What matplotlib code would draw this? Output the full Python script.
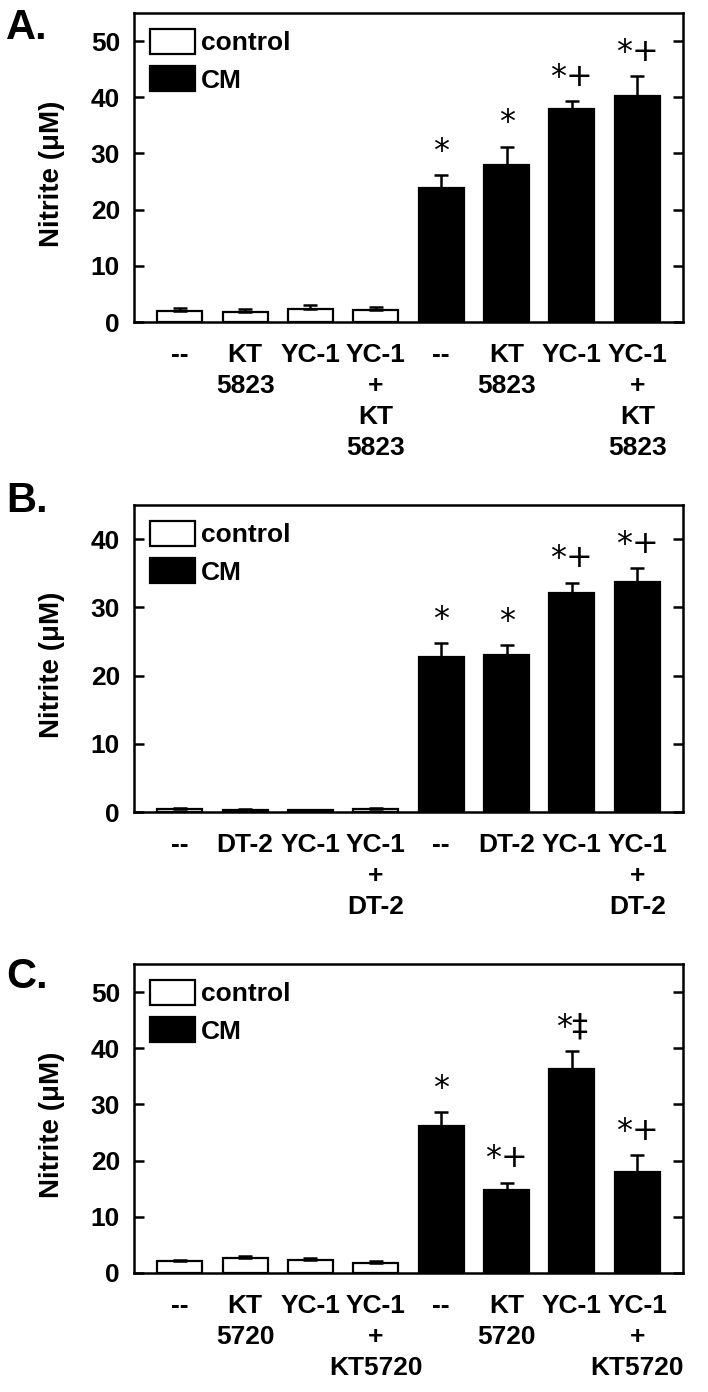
"""
Nitrite production, three panels (A, B, C) of control vs CM bars
"""

#%% Imports
import numpy as np
import matplotlib
matplotlib.use('Agg')
import matplotlib.pyplot as plt
from matplotlib import font_manager

#%% Fonts
installed = {f.name for f in font_manager.fontManager.ttflist}
narrow = 'Liberation Sans Narrow' if 'Liberation Sans Narrow' in installed else 'Liberation Sans'
plt.rcParams['font.family'] = [narrow, 'DejaVu Sans']
plt.rcParams['font.weight'] = 'bold'
plt.rcParams['axes.labelweight'] = 'bold'

#%% Data
labels_a = ['--', 'KT\n5823', 'YC-1', 'YC-1\n+\nKT\n5823',
            '--', 'KT\n5823', 'YC-1', 'YC-1\n+\nKT\n5823']
ctrl_a = [2.0, 1.7, 2.4, 2.2]
ctrl_a_err = [0.5, 0.55, 0.7, 0.5]
cm_a = [23.9, 28.0, 38.0, 40.2]
cm_a_err = [2.2, 3.2, 1.25, 3.6]
sig_a = ['*', '*', '*+', '*+']

labels_b = ['--', 'DT-2', 'YC-1', 'YC-1\n+\nDT-2',
            '--', 'DT-2', 'YC-1', 'YC-1\n+\nDT-2']
ctrl_b = [0.5, 0.35, 0.25, 0.45]
ctrl_b_err = [0.15, 0.1, 0.1, 0.1]
cm_b = [22.7, 23.0, 32.1, 33.7]
cm_b_err = [2.0, 1.5, 1.5, 2.05]
sig_b = ['*', '*', '*+', '*+']

labels_c = ['--', 'KT\n5720', 'YC-1', 'YC-1\n+\nKT5720',
            '--', 'KT\n5720', 'YC-1', 'YC-1\n+\nKT5720']
ctrl_c = [2.1, 2.6, 2.4, 1.7]
ctrl_c_err = [0.3, 0.4, 0.3, 0.5]
cm_c = [26.2, 14.7, 36.3, 18.0]
cm_c_err = [2.4, 1.4, 3.2, 3.0]
sig_c = ['*', '*+', '*\u2021', '*+']

#%% Plot helper
def draw_panel(ax, labels, ctrl, ctrl_err, cm, cm_err, sig, ymax, yticks):
    x_ctrl = np.arange(len(ctrl))
    x_cm = np.arange(len(cm)) + len(ctrl)

    ax.bar(x_ctrl, ctrl, width=0.69, color='white', edgecolor='black', linewidth=1.6, label='control')
    ax.bar(x_cm, cm, width=0.69, color='black', edgecolor='black', linewidth=1.6, label='CM')
    for xs, vals, errs in [(x_ctrl, ctrl, ctrl_err), (x_cm, cm, cm_err)]:
        ax.errorbar(xs, vals, yerr=[np.zeros(len(errs)), errs], fmt='none', ecolor='black',
                    elinewidth=1.8, capsize=5, capthick=1.8)

    # significance marks above the error bars
    for xi, v, e, s in zip(x_cm, cm, cm_err, sig):
        ax.annotate(s, (xi, v + e), xytext=(0, 6), textcoords='offset points',
                    ha='center', va='bottom', fontsize=23, fontweight='normal',
                    family=['DejaVu Sans'])

    # x labels, one text per line so the stacked words sit under each bar
    for xi, lab in enumerate(labels):
        for k, line in enumerate(lab.split('\n')):
            ax.annotate(line, (xi, 0), xycoords=('data', 'axes fraction'),
                        xytext=(0, -24 - 22.3 * k), textcoords='offset points',
                        ha='center', va='center', fontsize=19, annotation_clip=False)

    ax.set_xlim(-0.7, 7.7)
    ax.set_ylim(0, ymax)
    ax.set_yticks(yticks)
    ax.set_xticks([])
    ax.tick_params(axis='y', direction='in', length=7, width=1.8, right=True,
                   labelsize=19, pad=10)
    for sp in ax.spines.values():
        sp.set_linewidth(1.8)

    ax.set_ylabel('Nitrite (\u03bcM)', fontsize=20, fontweight='bold',
                  family=['Liberation Sans', 'DejaVu Sans'])
    ax.yaxis.set_label_coords(-0.125, 0.48)

    ax.legend(loc='upper left', frameon=False, fontsize=19, handlelength=1.7,
              handleheight=1.1, handletextpad=0.25, labelspacing=0.4,
              borderaxespad=0.4, borderpad=0.2)

#%% Figure
fig = plt.figure(figsize=(7.08, 13.92), dpi=100)
H = 1392.0
ax_a = fig.add_axes([134 / 708, 1 - 322 / H, 549 / 708, 309 / H])
ax_b = fig.add_axes([134 / 708, 1 - 812 / H, 549 / 708, 307 / H])
ax_c = fig.add_axes([134 / 708, 1 - 1273 / H, 549 / 708, 309 / H])

draw_panel(ax_a, labels_a, ctrl_a, ctrl_a_err, cm_a, cm_a_err, sig_a, 55, [0, 10, 20, 30, 40, 50])
draw_panel(ax_b, labels_b, ctrl_b, ctrl_b_err, cm_b, cm_b_err, sig_b, 45, [0, 10, 20, 30, 40])
draw_panel(ax_c, labels_c, ctrl_c, ctrl_c_err, cm_c, cm_c_err, sig_c, 55, [0, 10, 20, 30, 40, 50])

for letter, ytop in [('A.', 8), ('B.', 481), ('C.', 957)]:
    fig.text(6 / 708, 1 - ytop / H, letter, fontsize=30, fontweight='bold', va='top', ha='left',
             family=['Liberation Sans', 'DejaVu Sans'])

fig.savefig('out.png', dpi=100)
